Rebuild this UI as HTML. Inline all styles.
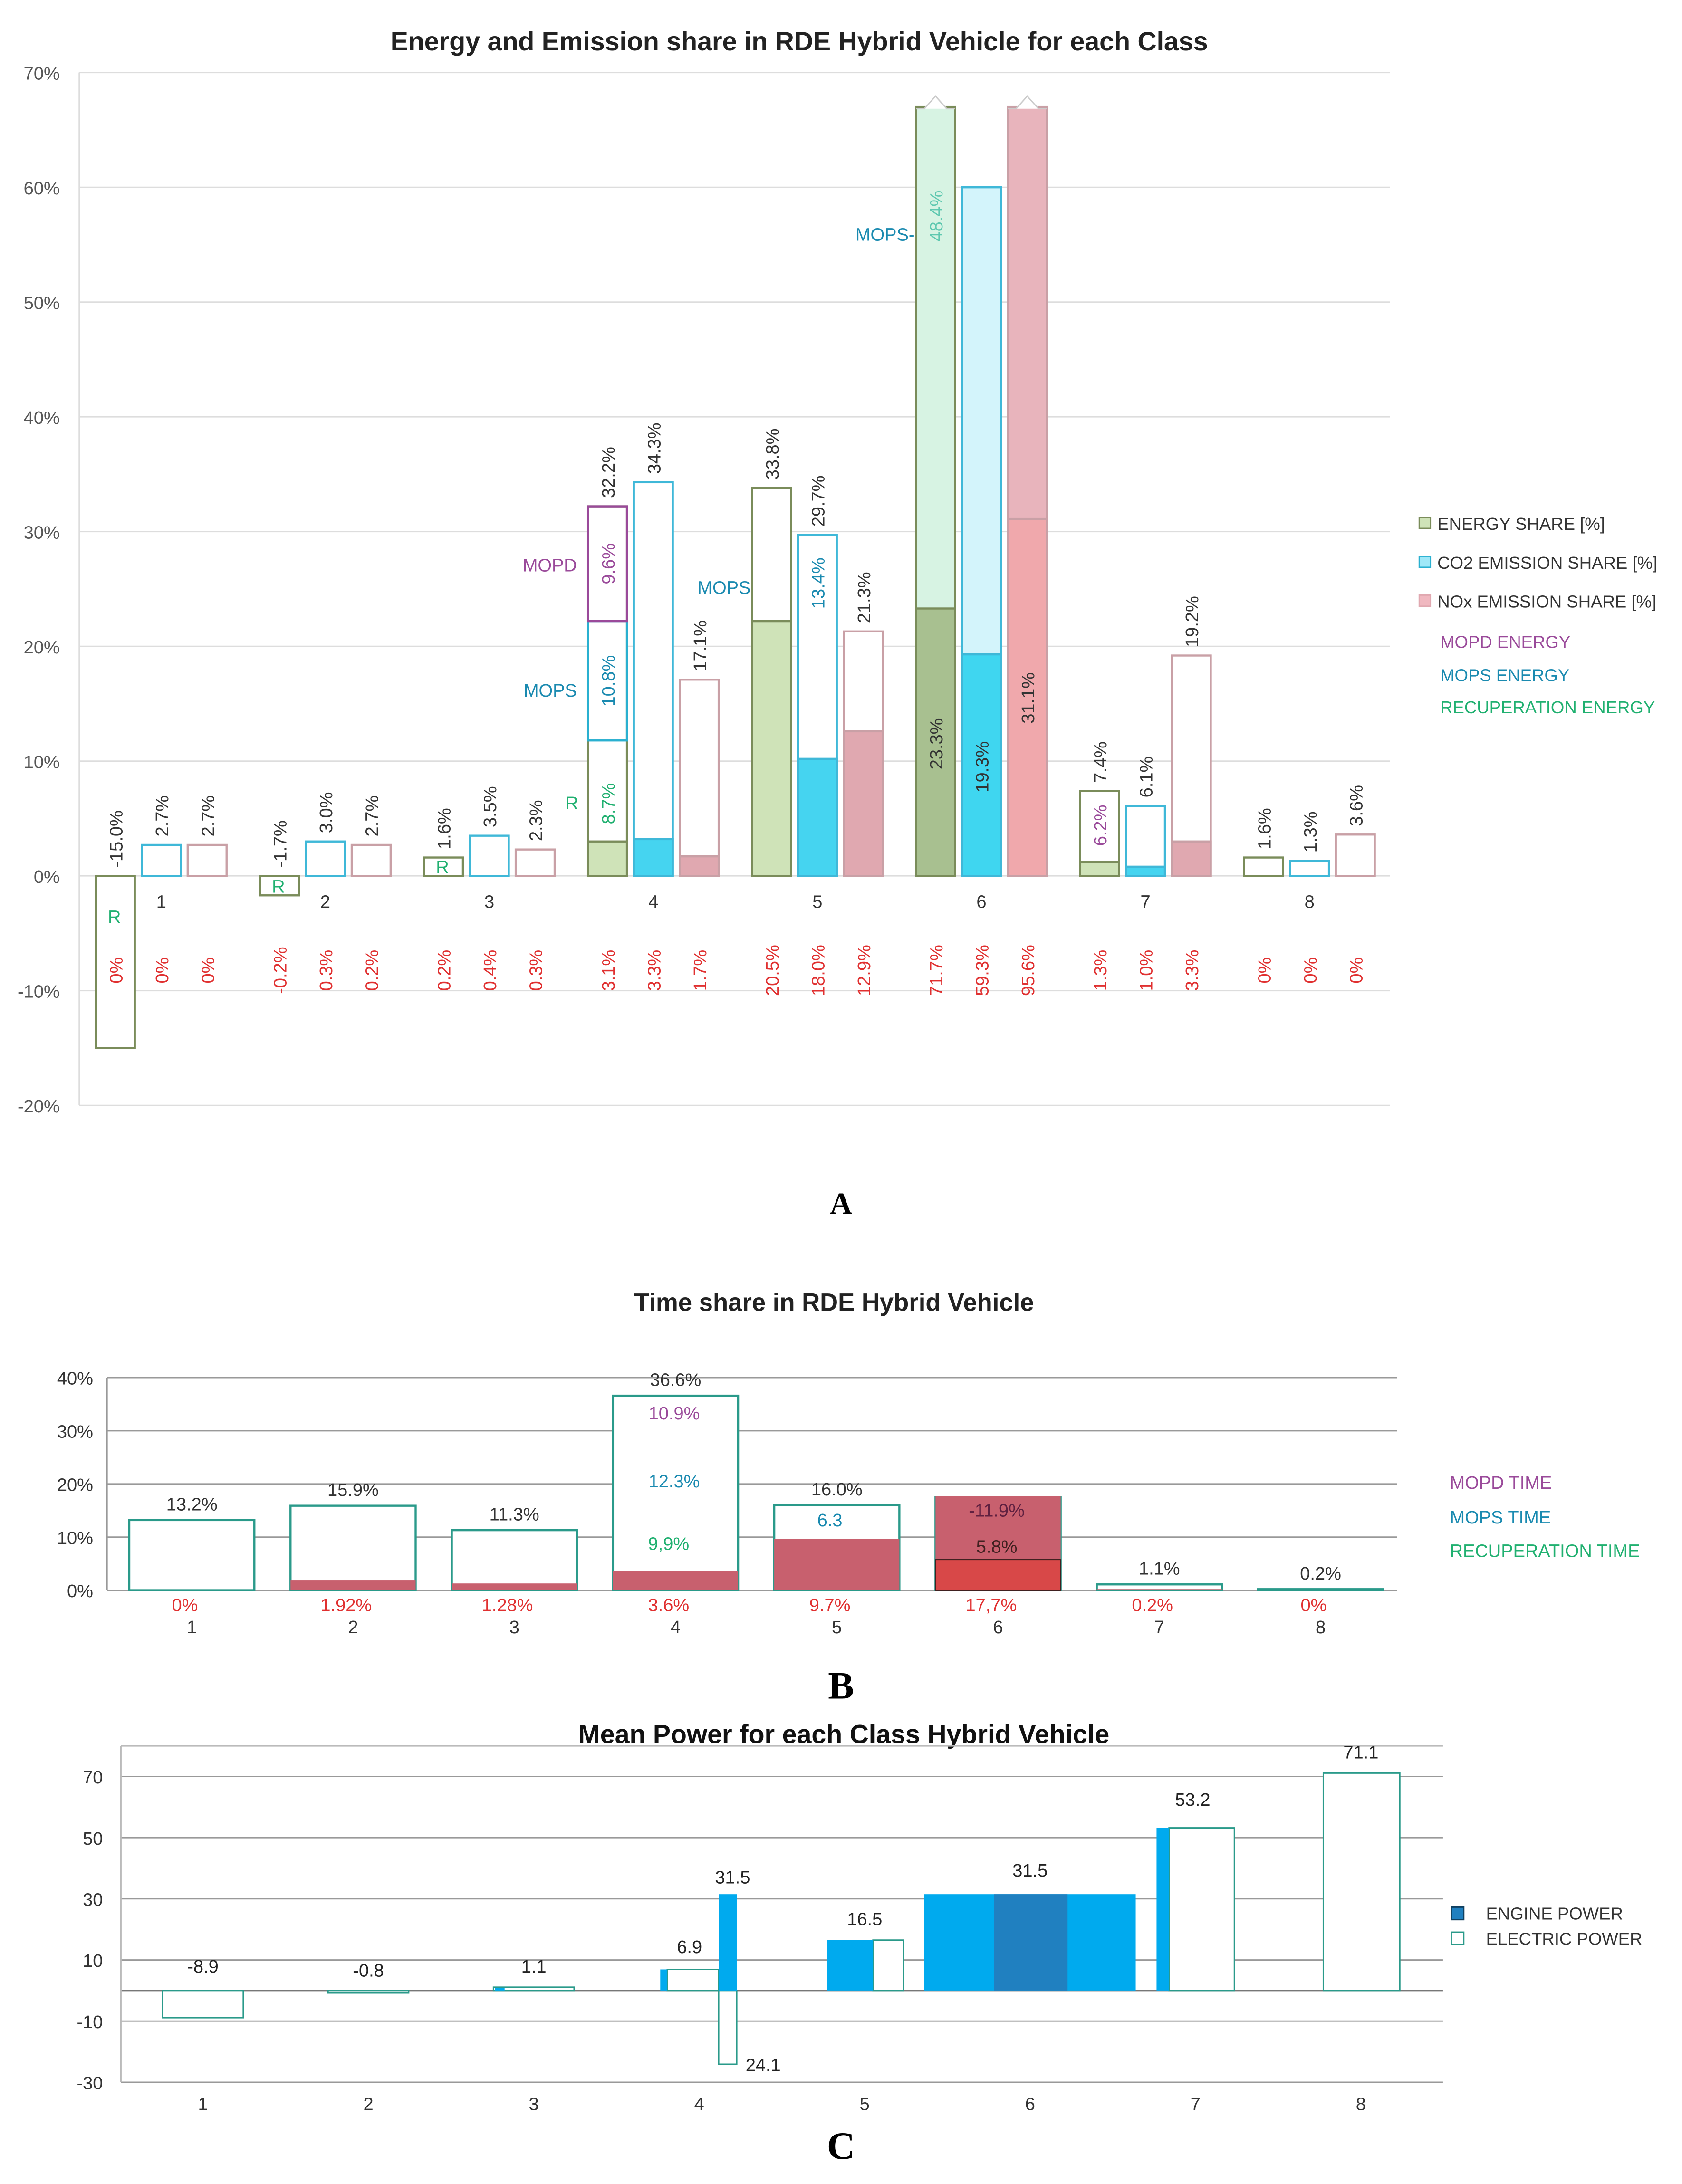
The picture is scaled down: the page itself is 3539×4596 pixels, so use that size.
<!DOCTYPE html>
<html><head><meta charset="utf-8"><style>
html,body{margin:0;padding:0;background:#fff}
svg{display:block;font-family:"Liberation Sans",sans-serif}
</style></head><body>
<svg id="s" width="3539" height="4596" viewBox="0 0 1210 1571" xmlns="http://www.w3.org/2000/svg">
<g id="A"></g>
<g id="B"></g>
<g id="C"></g>
</svg>
<script>
const NS="http://www.w3.org/2000/svg";
// ---- Chart A data ----
const classes=["1","2","3","4","5","6","7","8"];
const energyTotal=[-15.0,-1.7,1.6,32.2,33.8,67,7.4,1.6];
const energyFill=[0,0,0,3,22.2,23.3,1.2,0];
const energyLabels=["-15.0%","-1.7%","1.6%","32.2%","33.8%","","7.4%","1.6%"];
const co2Total=[2.7,3.0,3.5,34.3,29.7,60,6.1,1.3];
const co2Fill=[0,0,0,3.2,10.2,19.3,0.8,0];
const co2Labels=["2.7%","3.0%","3.5%","34.3%","29.7%","","6.1%","1.3%"];
const noxTotal=[2.7,2.7,2.3,17.1,21.3,67,19.2,3.6];
const noxFill=[0,0,0,1.7,12.6,31.1,3,0];
const noxLabels=["2.7%","2.7%","2.3%","17.1%","21.3%","","19.2%","3.6%"];
const redLabels=[["0%","0%","0%"],["-0.2%","0.3%","0.2%"],["0.2%","0.4%","0.3%"],["3.1%","3.3%","1.7%"],["20.5%","18.0%","12.9%"],["71.7%","59.3%","95.6%"],["1.3%","1.0%","3.3%"],["0%","0%","0%"]];
const aTicks=[70,60,50,40,30,20,10,0,-10,-20];
// ---- Chart B data ----
const timeTotal=[13.2,15.9,11.3,36.6,16.0,17.5,1.1,0.2];
const timeFill=[0,1.92,1.28,3.6,9.7,17.7,0.2,0];
const timeTopLabels=["13.2%","15.9%","11.3%","36.6%","16.0%","","1.1%","0.2%"];
const timeBotLabels=["0%","1.92%","1.28%","3.6%","9.7%","17,7%","0.2%","0%"];
const bTicks=[40,30,20,10,0];
// ---- Chart C data ----
const electric=[-8.9,-0.8,1.1,6.9,16.5,31.5,53.2,71.1];
const engine=[0,0,0.8,31.5,16.5,31.5,53.2,0];
const cTicks=[70,50,30,10,-10,-30];

function el(p,t,a,txt){const e=document.createElementNS(NS,t);for(const k in a)e.setAttribute(k,a[k]);if(txt!==undefined)e.textContent=txt;p.appendChild(e);return e;}

// ===== Chart A =====
const A=document.getElementById('A');
const ay=v=>630-v*8.257, ax=i=>116+i*118;
el(A,'text',{x:575,y:36,'text-anchor':'middle','font-size':19,'font-weight':'bold',fill:'#222',},'Energy and Emission share in RDE Hybrid Vehicle for each Class');
aTicks.forEach(t=>{
  const g=el(A,'line',{x1:57,x2:1000,y1:ay(t),y2:ay(t),stroke:'#ddd','stroke-width':1});
  
  const l=el(A,'text',{x:43,y:ay(t)+5,'text-anchor':'end','font-size':13,fill:'#555'},t+'%');
  
});
el(A,'line',{x1:57,x2:57,y1:52,y2:795,stroke:'#ddd'});
function barA(i,off,total,fill,stroke,fillc,lightc,label){
  const x=ax(i)+off-14,w=28;
  const y0=ay(0),yt=ay(total);
  const bg=el(A,'rect',{x:x,y:Math.min(y0,yt),width:w,height:Math.abs(y0-yt),fill:lightc,stroke:stroke,'stroke-width':1.5});
  
  if(fill>0){const f=el(A,'rect',{x:x,y:ay(fill),width:w,height:y0-ay(fill),fill:fillc,stroke:stroke,'stroke-width':1.5});
    }
  if(label){const ly=total>=0?yt-6:y0-6;const lx=x+w/2+5;
    const t=el(A,'text',{x:lx,y:ly,'font-size':13,fill:'#333',transform:`rotate(-90 ${lx} ${ly})`},label);
    }
}
classes.forEach((c,i)=>{
  const big=i===5;
  barA(i,-33,energyTotal[i],energyFill[i],'#7a8c5a',big?'#a8c090':'#cfe3b8',big?'#d7f3e3':'#fff',energyLabels[i]);
  barA(i,0,co2Total[i],co2Fill[i],'#3fb8d8',big?'#3fd6f0':'#45d4f0',big?'#d3f4fb':'#fff',co2Labels[i]);
  barA(i,33,noxTotal[i],noxFill[i],'#c9a0a6',big?'#f0a8ac':'#e0a8b0',big?'#e8b4bc':'#fff',noxLabels[i]);
  const cl=el(A,'text',{x:ax(i),y:653,'text-anchor':'middle','font-size':13,fill:'#333'},c);
  
  [-33,0,33].forEach((o,k)=>{const lx=ax(i)+o+5,ly=698;
    const t=el(A,'text',{x:lx,y:ly,'font-size':13,fill:'#e03030','text-anchor':'middle',transform:`rotate(-90 ${lx} ${ly})`},redLabels[i][k]);
    });
});
// group 4 segments
const x4=ax(3)-33-14;
el(A,'rect',{x:x4,y:ay(22.2),width:28,height:ay(11.8)-ay(22.2),fill:'none',stroke:'#2ab0d0','stroke-width':1.5});
el(A,'rect',{x:x4,y:ay(32.2),width:28,height:ay(22.2)-ay(32.2),fill:'none',stroke:'#9a4a9a','stroke-width':1.5});
function rl(x,y,t,c){const e=el(A,'text',{x:x,y:y,'font-size':13,fill:c,'text-anchor':'middle',transform:`rotate(-90 ${x} ${y})`},t);}
rl(x4+19,ay(27.2),'9.6%','#9a4a9a');rl(x4+19,ay(17),'10.8%','#1a8ab0');rl(x4+19,ay(6.3),'8.7%','#20b070');
rl(ax(4)-14+19,ay(25.5),'13.4%','#1a8ab0');rl(ax(5)-47+19,ay(57.5),'48.4%','#5fc8b0');
rl(ax(5)-47+19,ay(11.5),'23.3%','#333');rl(ax(5)+5,ay(9.5),'19.3%','#333');rl(ax(5)+38,ay(15.5),'31.1%','#333');
rl(ax(6)-33+5,ay(4.4),'6.2%','#9a4a9a');
function tl(x,y,t,c){const e=el(A,'text',{x:x,y:y,'font-size':13,fill:c,'text-anchor':'end'},t);}
tl(415,411,'MOPD','#9a4a9a');tl(415,501,'MOPS','#1a8ab0');tl(416,582,'R','#20b070');tl(540,427,'MOPS','#1a8ab0');tl(658,173,'MOPS-','#1a8ab0');
tl(87,664,'R','#20b070');tl(205,642,'R','#20b070');tl(323,628,'R','#20b070');
// arrows
[ax(5)-33,ax(5)+33].forEach(cx=>{const a=el(A,'path',{d:`M${cx-14} 78 L${cx-8} 78 L${cx} 69 L${cx+8} 78 L${cx+14} 78`,fill:'#fff',stroke:'#ccc'});});
// legend
[['#cfe3b8','#7a8c5a','ENERGY SHARE [%]',381],['#9fe8f8','#2ab0d0','CO2 EMISSION SHARE [%]',409],['#f0b8c0','#e0a8b0','NOx EMISSION SHARE [%]',437]].forEach(l=>{
  const r=el(A,'rect',{x:1021,y:l[3]-9,width:8,height:8,fill:l[0],stroke:l[1]});
  const t=el(A,'text',{x:1034,y:l[3],'font-size':12.5,fill:'#333'},l[2]);});
[['MOPD ENERGY','#9a4a9a',466],['MOPS ENERGY','#1a8ab0',490],['RECUPERATION ENERGY','#20b070',513]].forEach(l=>{
  const t=el(A,'text',{x:1036,y:l[2],'font-size':12.5,fill:l[1]},l[0]);});
el(A,'text',{x:605,y:873,'text-anchor':'middle','font-size':22,'font-weight':'bold','font-family':'Liberation Serif',fill:'#000',},'A');

// ===== Chart B =====
const B=document.getElementById('B');
const by=v=>1144-v*3.825, bx=i=>138+i*116;
el(B,'text',{x:600,y:943,'text-anchor':'middle','font-size':18,'font-weight':'bold',fill:'#222',},'Time share in RDE Hybrid Vehicle');
bTicks.forEach(t=>{const g=el(B,'line',{x1:77,x2:1005,y1:by(t),y2:by(t),stroke:'#999'});
  const l=el(B,'text',{x:67,y:by(t)+5,'text-anchor':'end','font-size':13,fill:'#333'},t+'%');});
el(B,'line',{x1:77,x2:77,y1:991,y2:1144,stroke:'#999'});
classes.forEach((c,i)=>{
  const x=bx(i)-45,w=90;
  const o=el(B,'rect',{x:x,y:by(timeTotal[i]),width:w,height:by(0)-by(timeTotal[i]),fill:'#fff',stroke:'#2a9a8a','stroke-width':1.5});
  
  if(timeFill[i]>0){const f=el(B,'rect',{x:x,y:by(timeFill[i]),width:w,height:by(0)-by(timeFill[i]),fill:'#c8606e'});
    }
  if(timeTopLabels[i]){const t=el(B,'text',{x:bx(i),y:by(timeTotal[i])-7,'text-anchor':'middle','font-size':13,fill:'#333'},timeTopLabels[i]);}
  const r=el(B,'text',{x:bx(i)-5,y:1159,'text-anchor':'middle','font-size':13,fill:'#e03030'},timeBotLabels[i]);
  const cl=el(B,'text',{x:bx(i),y:1175,'text-anchor':'middle','font-size':13,fill:'#333'},c);
});
el(B,'rect',{x:bx(5)-45,y:by(5.8),width:90,height:by(0)-by(5.8),fill:'#d84848',stroke:'#402020'});
function bt(x,y,t,c){const e=el(B,'text',{x:x,y:y,'text-anchor':'middle','font-size':13,fill:c},t);}
bt(485,1021,'10.9%','#9a4a9a');bt(485,1070,'12.3%','#1a8ab0');bt(481,1115,'9,9%','#20b070');bt(597,1098,'6.3','#1a8ab0');bt(717,1091,'-11.9%','#602040');bt(717,1117,'5.8%','#402020');
[['MOPD TIME','#9a4a9a',1071],['MOPS TIME','#1a8ab0',1096],['RECUPERATION TIME','#20b070',1120]].forEach(l=>{const t=el(B,'text',{x:1043,y:l[2],'font-size':13,fill:l[1]},l[0]);});
el(B,'text',{x:605,y:1222,'text-anchor':'middle','font-size':28,'font-weight':'bold','font-family':'Liberation Serif',fill:'#000',},'B');

// ===== Chart C =====
const C=document.getElementById('C');
const cy=v=>1432-v*2.2, cx=i=>146+i*119;
el(C,'text',{x:607,y:1254,'text-anchor':'middle','font-size':19,'font-weight':'bold',fill:'#111',},'Mean Power for each Class Hybrid Vehicle');
el(C,'line',{x1:87,x2:1038,y1:1256,y2:1256,stroke:'#bbb'});
cTicks.forEach(t=>{const g=el(C,'line',{x1:87,x2:1038,y1:cy(t),y2:cy(t),stroke:'#999'});
  const l=el(C,'text',{x:74,y:cy(t)+5,'text-anchor':'end','font-size':13,fill:'#333'},t);});
el(C,'line',{x1:87,x2:1038,y1:cy(0),y2:cy(0),stroke:'#777'});
el(C,'line',{x1:87,x2:87,y1:1256,y2:1498,stroke:'#bbb'});
function rect(x,v,w,fill,stroke,name){const y=Math.min(cy(0),cy(v)),h=Math.abs(cy(0)-cy(v));const r=el(C,'rect',{x:x,y:y,width:w,height:h,fill:fill,stroke:stroke,'stroke-width':1});}
function lab(x,y,t){const e=el(C,'text',{x:x,y:y,'text-anchor':'middle','font-size':13,fill:'#222'},t);}
// electric outlines
rect(cx(0)-29,electric[0],58,'#fff','#2a9a8a','c-electric-bar');
rect(cx(1)-29,electric[1],58,'#fff','#2a9a8a','c-electric-bar');
rect(cx(2)-29,electric[2],58,'#fff','#2a9a8a','c-electric-bar');
rect(cx(3)-23,electric[3],37,'#fff','#2a9a8a','c-electric-bar');
rect(cx(3)+14,-24.1,13,'#fff','#2a9a8a','c-electric-bar');
rect(cx(4)+6,electric[4],22,'#fff','#2a9a8a','c-electric-bar');
rect(cx(6)-19,electric[6],47,'#fff','#2a9a8a','c-electric-bar');
rect(cx(7)-27,electric[7],55,'#fff','#2a9a8a','c-electric-bar');
// engine
rect(cx(2)-28,engine[2],7,'#00aaee','none','c-engine-bar');
rect(cx(3)-28,electric[3],5,'#00aaee','none','c-engine-bar');
rect(cx(3)+14,engine[3],13,'#00aaee','none','c-engine-bar');
rect(cx(4)-27,engine[4],33,'#00aaee','none','c-engine-bar');
rect(cx(5)-76,engine[5],152,'#00aaee','none','c-engine-bar');
rect(cx(5)-26,engine[5],53,'#2080c0','none','c-engine-bar');
rect(cx(6)-28,engine[6],9,'#00aaee','none','c-engine-bar');
lab(cx(0),1419,'-8.9');lab(cx(1),1422,'-0.8');lab(cx(2),1419,'1.1');lab(cx(3)-7,1405,'6.9');lab(cx(3)+24,1355,'31.5');
lab(cx(3)+46,1490,'24.1');lab(cx(4),1385,'16.5');lab(cx(5),1350,'31.5');lab(cx(6)-2,1299,'53.2');lab(cx(7),1265,'71.1');
classes.forEach((c,i)=>{const t=el(C,'text',{x:cx(i),y:1518,'text-anchor':'middle','font-size':13,fill:'#333'},c);});
el(C,'rect',{x:1044,y:1372,width:9,height:9,fill:'#2080c0',stroke:'#104060',});
el(C,'rect',{x:1044,y:1390,width:9,height:9,fill:'#fff',stroke:'#2a9a8a',});
el(C,'text',{x:1069,y:1381,'font-size':12.5,fill:'#333',},'ENGINE POWER');
el(C,'text',{x:1069,y:1399,'font-size':12.5,fill:'#333',},'ELECTRIC POWER');
el(C,'text',{x:605,y:1553,'text-anchor':'middle','font-size':28,'font-weight':'bold','font-family':'Liberation Serif',fill:'#000',},'C');
</script>
</body></html>
